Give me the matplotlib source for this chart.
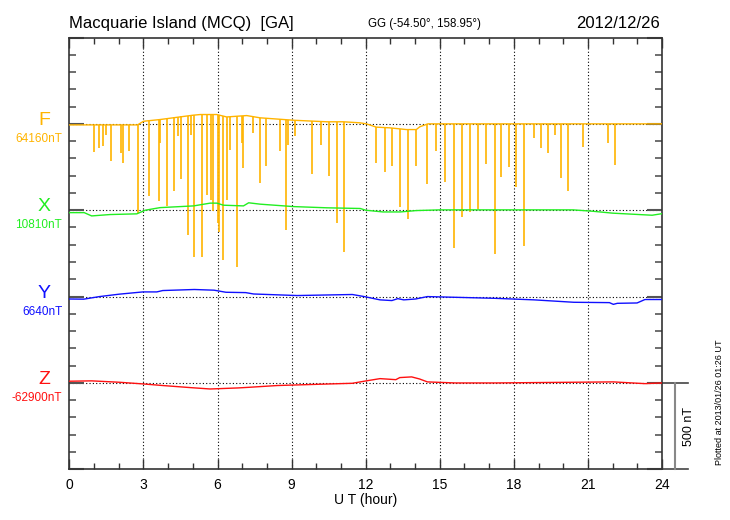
import numpy as np
import matplotlib
matplotlib.use('Agg')
import matplotlib.pyplot as plt
from matplotlib.transforms import blended_transform_factory

plt.rcParams['font.family'] = ['Liberation Sans', 'DejaVu Sans']

# ---- data (nT, relative to each component's base value) ----
comp_names = ['F', 'X', 'Y', 'Z']
comp_base_labels = ['64160nT', '10810nT', '6640nT', '-62900nT']
comp_colors = ['#FFB400', '#22EE22', '#1010FF', '#FF1010']
comp_offsets = [2000, 1500, 1000, 500]  # vertical slot of each trace

f_hour = [0, 2.76, 3.0, 3.67, 5.0, 5.3, 5.97, 6.37, 7.18, 7.72, 9.07, 10.42, 11.1,
          11.77, 12.03, 12.43, 12.97, 13.38, 13.65, 14.05, 14.19, 14.52, 24]
f_val = [-6, -6, 15, 25, 50, 54, 54, 40, 48, 35, 21, 12, 12,
         6, 0, -19, -23, -29, -33, -33, -17, 0, 0]

# downward spikes of F
spike_hour = [0.98, 1.18, 1.35, 1.47, 1.69, 2.10, 2.19, 2.43, 2.76, 3.23, 3.62, 3.67,
              3.94, 4.24, 4.38, 4.52, 4.79, 4.92, 5.06, 5.36, 5.59, 5.73, 5.81, 6.00,
              6.04, 6.24, 6.37, 6.51, 6.78, 6.98, 7.02, 7.43, 7.70, 7.97, 8.51, 8.78,
              8.87, 9.14, 9.82, 10.19, 10.50, 10.83, 11.12, 12.43, 12.77, 13.08, 13.38,
              13.70, 14.05, 14.50, 14.83, 15.20, 15.56, 15.90, 16.24, 16.56, 16.89,
              17.22, 17.49, 17.80, 18.07, 18.40, 18.82, 19.11, 19.40, 19.65, 19.92,
              20.19, 20.80, 21.82, 22.08]
spike_bottom = [-163, -139, -126, -62, -217, -168, -227, -155, -517, -420, -449, -110,
                -478, -391, -72, -320, -643, -62, -769, -769, -411, -440, -507, -575,
                -624, -788, -440, -149, -827, -110, -257, -52, -343, -246, -159, -614,
                -120, -72, -289, -120, -304, -575, -740, -227, -281, -242, -484,
                -552, -246, -349, -155, -337, -721, -537, -513, -494, -231,
                -755, -310, -252, -366, -705, -81, -139, -169, -62, -316,
                -389, -136, -110, -240]
spike_top = [-6, -6, -6, -6, -6, -6, -6, -6, -6, 18, 24, 25,
             33, 40, 42, 44, 47, 49, 50, 54, 54, 54, 54, 53,
             52, 45, 40, 42, 45, 47, 47, 43, 35, 33, 27, 24,
             23, 21, 16, 14, 12, 12, 12, -19, -21, -25, -29,
             -33, -33, -2, 0, 0, 0, 0, 0, 0, 0,
             0, 0, 0, 0, 0, 0, 0, 0, 0, 0,
             0, 0, 0, 0]

x_hour = [0, 0.6, 0.9, 1.65, 2.73, 3.07, 3.67, 5.03, 5.7, 5.97, 6.24, 7.05, 7.26, 7.73,
          9.08, 10.43, 11.1, 11.78, 12.0, 12.7, 13.4, 14.05, 15.0, 20.4, 21.2, 22.0, 23.6, 24.0]
x_val = [-14, -14, -33, -25, -21, 0, 15, 25, 41, 41, 29, 25, 43, 35,
         21, 14, 12, 10, 0, -10, -10, -2, 2, 2, -6, -17, -29, -20]

y_hour = [0, 0.58, 1.22, 2.02, 2.98, 3.54, 3.78, 5.06, 5.86, 6.34, 7.14, 7.46, 9.22, 11.46,
          11.94, 12.58, 13.06, 13.30, 13.54, 14.02, 14.5, 17.22, 18.82, 20.43, 21.87, 22.03,
          22.19, 22.99, 23.31, 24]
y_val = [-14, -15, 0, 14, 27, 27, 35, 41, 37, 25, 23, 15, 6, 12,
         0, -19, -23, -12, -19, -14, 0, -10, -19, -33, -35, -45,
         -39, -37, -17, -17]

z_hour = [0, 0.9, 2.02, 3.01, 3.78, 4.9, 5.7, 6.82, 7.3, 8.42, 10.02, 11.46, 11.94, 12.58,
          13.22, 13.38, 13.86, 14.18, 14.5, 15.62, 17.22, 22.03, 23.31, 24]
z_val = [10, 12, 4, -6, -15, -27, -35, -29, -25, -15, -8, -2, 10, 25,
         19, 31, 35, 23, 6, 0, 0, 6, -4, 0]

hour_ticks = [0, 3, 6, 9, 12, 15, 18, 21, 24]

# ---- figure ----
fig = plt.figure(figsize=(7.3, 5.2), dpi=100)
ax = fig.add_axes([69.4/730, 1-469.3/520, (662-69.4)/730, (469.3-37.5)/520])
ax.set_xlim(0, 24)
ax.set_ylim(0, 2500)

for s in ax.spines.values():
    s.set_color('#333333')
    s.set_linewidth(1.2)

ax.set_xticks(hour_ticks)
ax.set_xticks(np.arange(0, 25, 1), minor=True)
ax.set_yticks(np.arange(0, 2501, 500))
ax.set_yticks(np.arange(0, 2501, 100), minor=True)
ax.set_yticklabels([])
ax.tick_params(axis='x', which='major', direction='in', top=True, length=7, width=1, color='#333333', labelsize=10, pad=6)
ax.tick_params(axis='x', which='minor', direction='in', top=True, length=4, width=1, color='#333333')
ax.tick_params(axis='y', which='major', direction='in', right=True, length=11, width=1.5, color='#555555')
ax.tick_params(axis='y', which='minor', direction='in', right=True, length=5, width=1.2, color='#555555')
ax.set_xlabel('U T (hour)', fontsize=10, labelpad=1)

# dotted grid
for h in hour_ticks[1:-1]:
    ax.axvline(h, color='black', ls=(0, (1, 2)), lw=0.8, zorder=1)
for b in comp_offsets:
    ax.axhline(b, color='black', ls=(0, (1, 2)), lw=0.8, zorder=1)

# traces
fb, xb, yb, zb = comp_offsets
ax.vlines(spike_hour, fb + np.array(spike_bottom), fb + np.array(spike_top),
          color=comp_colors[0], lw=1.2, zorder=3)
ax.plot(f_hour, fb + np.array(f_val), color=comp_colors[0], lw=1, zorder=3)
ax.plot(x_hour, xb + np.array(x_val), color=comp_colors[1], lw=1, zorder=3)
ax.plot(y_hour, yb + np.array(y_val), color=comp_colors[2], lw=1, zorder=3)
ax.plot(z_hour, zb + np.array(z_val), color=comp_colors[3], lw=1, zorder=3)

# component labels on the left
tr = blended_transform_factory(ax.transAxes, ax.transData)
for name, lab, col, b in zip(comp_names, comp_base_labels, comp_colors, comp_offsets):
    ax.text(-0.042, b - 6, name, color=col, fontsize=14, ha='center', va='baseline', transform=tr)
    ax.text(-0.012, b - 104, lab, color=col, fontsize=8.5, ha='right', va='baseline', transform=tr)

# 500 nT scale bar
ax.plot([24, 25.05], [500, 500], color='#444444', lw=1.2, clip_on=False)
ax.plot([24, 25.05], [0, 0], color='#444444', lw=1.2, clip_on=False)
ax.plot([24.53, 24.53], [0, 500], color='#888888', lw=1.5, clip_on=False)
ax.text(25.1, 250, '500 nT', rotation=90, fontsize=9, ha='center', va='center')

# titles
fig.text(69.4/730, 1-28/520, 'Macquarie Island (MCQ)  [GA]', fontsize=12, ha='left', va='baseline')
fig.text(424/730, 1-27/520, 'GG (-54.50°, 158.95°)', fontsize=8.3, ha='center', va='baseline')
fig.text(660/730, 1-28/520, '2012/12/26', fontsize=12, ha='right', va='baseline')
fig.text(720/730, 1-402/520, 'Plotted at 2013/01/26 01:26 UT', fontsize=6.5, rotation=90,
         ha='center', va='center')

fig.savefig('out.png', dpi=100)
